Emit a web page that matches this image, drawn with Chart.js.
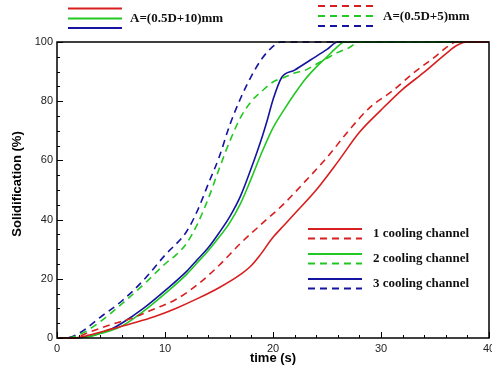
<!DOCTYPE html>
<html>
<head>
<meta charset="utf-8">
<script src="https://cdn.jsdelivr.net/npm/chart.js@4/dist/chart.umd.min.js"></script>
<style>
  html, body { margin: 0; padding: 0; background: #fff; }
</style>
</head>
<body>
<canvas id="c" width="492" height="370"></canvas>
<script>
// time (s) / solidification (%)
const redSolidT = [0, 1.5, 3, 5, 7, 9, 11, 13, 15, 17, 18, 18.8, 20, 21, 22, 24, 26, 28, 30, 32, 34, 36, 37, 38, 40];
const redSolidV = [0, 0, 1, 3, 5, 7.2, 10, 13.3, 17, 21.5, 24.5, 28, 34, 38, 42, 50, 59.5, 69.5, 77, 84, 89.8, 96, 98.8, 100, 100];

const redDashT = [0, 1.5, 3, 5, 7, 9, 11, 13, 15, 17, 19, 21, 23, 25, 27, 29, 31, 33, 35, 36, 37, 40];
const redDashV = [0, 0, 2, 4.5, 6.8, 9.8, 13, 18, 24.5, 32, 38.7, 45.3, 53, 61, 70, 78, 83.3, 89.5, 95, 98, 100, 100];

const greenSolidT = [0, 1.5, 3, 4, 5, 6, 8, 10, 12, 13, 14, 15, 16, 17, 18, 19, 20, 21, 22, 23, 24, 25, 26, 26.6, 40];
const greenSolidV = [0, 0, 0.5, 1.5, 2.5, 4, 9, 15, 21.5, 25.5, 29.5, 34, 39, 45.5, 54, 63, 71, 77, 82.5, 87.5, 91.5, 95, 98.5, 100, 100];

const greenDashT = [0, 0.8, 2, 4, 6, 8, 10, 11, 12, 13, 14, 15, 16, 17, 18, 19, 20, 21, 22, 23, 24, 25, 26, 27, 28, 40];
const greenDashV = [0, 0, 1, 5.5, 11.5, 18, 25, 28, 32, 38.5, 47, 57, 66.5, 74.5, 80, 83.5, 86.5, 88, 89.5, 90.5, 92.5, 94.5, 96.5, 98, 100, 100];

const blueSolidT = [0, 1.5, 3, 4, 5, 6, 8, 10, 12, 13, 14, 15, 16, 17, 18, 19, 19.5, 20, 20.8, 22, 23.5, 25, 26, 40];
const blueSolidV = [0, 0, 0.6, 1.6, 3, 5, 10, 16, 22.5, 26.5, 30.5, 35.5, 41, 48, 57.5, 68, 74, 80.5, 88, 90.5, 94, 97.5, 100, 100];

const blueDashT = [0, 0.8, 2, 4, 6, 8, 10, 12, 13, 14, 15, 16, 17, 18, 19, 20, 20.7, 40];
const blueDashV = [0, 0, 1.5, 7, 12.5, 19.5, 28, 36, 43, 52, 61, 72, 81, 88.5, 94.5, 98.5, 100, 100];

const xTicks = [0, 10, 20, 30, 40];
const yTicks = [0, 20, 40, 60, 80, 100];
const channelLabels = ['1 cooling channel', '2 cooling channel', '3 cooling channel'];
const groupLabels = ['A=(0.5D+10)mm', 'A=(0.5D+5)mm'];

const RED = '#d81e1e', GREEN = '#22c822', BLUE = '#1414a0';
const DASH = [7, 5];

function pts(t, v) {
  return t.map((x, i) => ({ x: x, y: v[i] }));
}

function series(t, v, color, dashed) {
  return {
    data: pts(t, v),
    borderColor: color,
    borderWidth: 1.6,
    borderDash: dashed ? DASH : [],
    pointRadius: 0,
    fill: false,
    cubicInterpolationMode: 'monotone',
    clip: false
  };
}

// frame, inward ticks, axis titles and the hand-placed legends
const decor = {
  id: 'decor',
  afterDatasetsDraw(chart) {
    const ctx = chart.ctx;
    const a = chart.chartArea;
    const xs = chart.scales.x, ys = chart.scales.y;
    ctx.save();
    ctx.strokeStyle = '#000';
    ctx.lineWidth = 1.5;
    ctx.strokeRect(a.left, a.top, a.right - a.left, a.bottom - a.top);

    ctx.lineWidth = 1;
    ctx.beginPath();
    for (let t = 0; t <= 40; t += 2) {
      const x = Math.round(xs.getPixelForValue(t)) + 0.5;
      const len = t % 10 === 0 ? 6 : 3;
      ctx.moveTo(x, a.bottom);
      ctx.lineTo(x, a.bottom - len);
    }
    for (let v = 0; v <= 100; v += 5) {
      const y = Math.round(ys.getPixelForValue(v)) + 0.5;
      const len = v % 20 === 0 ? 6 : 3;
      ctx.moveTo(a.left, y);
      ctx.lineTo(a.left + len, y);
    }
    ctx.stroke();

    // axis titles
    ctx.fillStyle = '#000';
    ctx.font = 'bold 13px "Liberation Sans", Arial, sans-serif';
    ctx.textAlign = 'center';
    ctx.textBaseline = 'middle';
    ctx.fillText('time (s)', (a.left + a.right) / 2, 358);
    ctx.save();
    ctx.translate(17, 184);
    ctx.rotate(-Math.PI / 2);
    ctx.fillText('Solidification (%)', 0, 0);
    ctx.restore();

    const seg = (x1, x2, y, color, dashed, w) => {
      ctx.beginPath();
      ctx.strokeStyle = color;
      ctx.lineWidth = w;
      ctx.setLineDash(dashed ? DASH : []);
      ctx.moveTo(x1, y);
      ctx.lineTo(x2, y);
      ctx.stroke();
      ctx.setLineDash([]);
    };

    ctx.font = 'bold 13px "Liberation Serif", "Times New Roman", serif';
    ctx.textAlign = 'left';
    ctx.fillStyle = '#111';

    // top legends
    seg(68, 122, 8.5, RED, false, 2);
    seg(68, 122, 18.5, GREEN, false, 2);
    seg(68, 122, 28, BLUE, false, 2);
    ctx.fillText(groupLabels[0], 130, 18.5);

    seg(318, 373, 6, RED, true, 2);
    seg(318, 373, 16, GREEN, true, 2);
    seg(318, 373, 26, BLUE, true, 2);
    ctx.fillText(groupLabels[1], 383, 16.5);

    // channel legend
    const cols = [RED, GREEN, BLUE];
    const rows = [229, 254, 279];
    rows.forEach((y, i) => {
      seg(308, 362, y, cols[i], false, 2);
      seg(308, 362, y + 9.5, cols[i], true, 2);
      ctx.fillText(channelLabels[i], 373, y + 4.5);
    });
    ctx.restore();
  }
};

new Chart(document.getElementById('c'), {
  type: 'line',
  data: {
    datasets: [
      series(redSolidT, redSolidV, RED, false),
      series(redDashT, redDashV, RED, true),
      series(greenSolidT, greenSolidV, GREEN, false),
      series(greenDashT, greenDashV, GREEN, true),
      series(blueSolidT, blueSolidV, BLUE, false),
      series(blueDashT, blueDashV, BLUE, true)
    ]
  },
  options: {
    responsive: false,
    animation: false,
    events: [],
    layout: { padding: { top: 42, right: 3, left: 0, bottom: 0 } },
    plugins: { legend: { display: false }, tooltip: { enabled: false } },
    scales: {
      x: {
        type: 'linear',
        min: 0,
        max: 40,
        grid: { display: false, drawTicks: false },
        border: { display: false },
        afterBuildTicks: (s) => { s.ticks = xTicks.map(v => ({ value: v })); },
        ticks: {
          padding: 4,
          maxRotation: 0,
          color: '#222',
          font: { family: '"Liberation Sans", Arial, sans-serif', size: 11 }
        },
        afterFit: (s) => { s.height = 32; s.paddingLeft = 0; s.paddingRight = 0; }
      },
      y: {
        type: 'linear',
        min: 0,
        max: 100,
        grid: { display: false, drawTicks: false },
        border: { display: false },
        afterBuildTicks: (s) => { s.ticks = yTicks.map(v => ({ value: v })); },
        ticks: {
          padding: 4,
          color: '#222',
          font: { family: '"Liberation Sans", Arial, sans-serif', size: 11 }
        },
        afterFit: (s) => { s.width = 57; s.paddingTop = 0; s.paddingBottom = 0; }
      }
    }
  },
  plugins: [decor]
});
</script>
</body>
</html>
